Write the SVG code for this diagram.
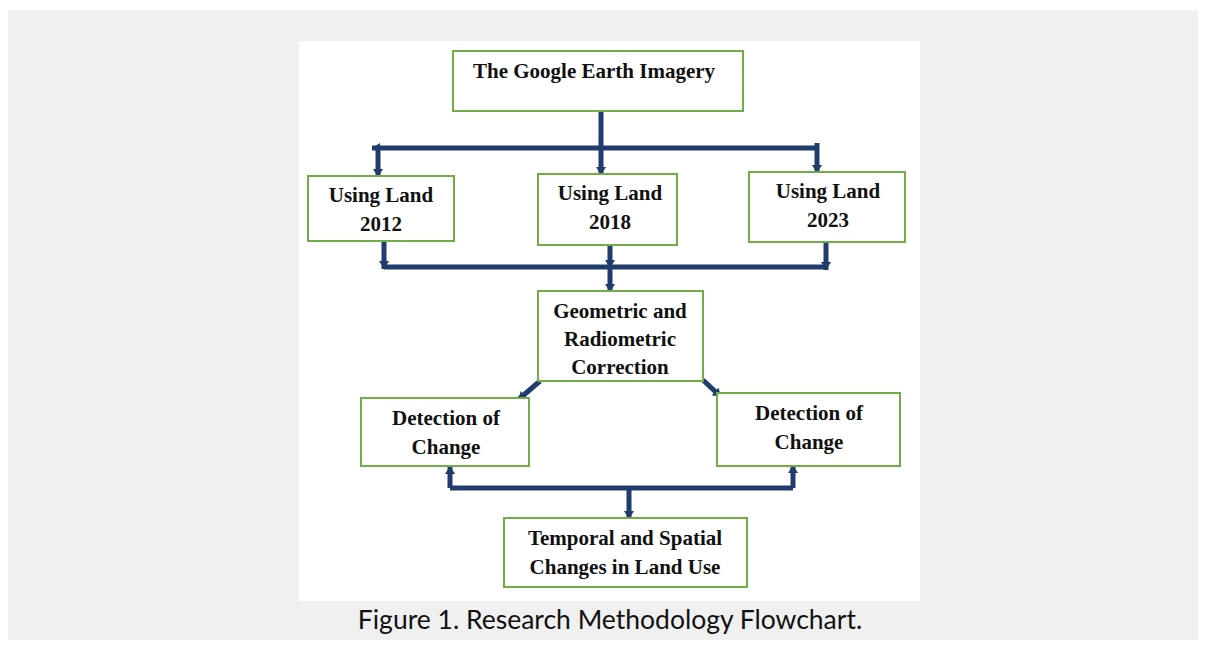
<svg xmlns="http://www.w3.org/2000/svg" width="1206" height="646" viewBox="0 0 1206 646">
<style>
.box{fill:#ffffff;stroke:#70ad47;stroke-width:2}
.t{font-family:"Liberation Serif","Times New Roman",serif;font-weight:bold;font-size:21px;fill:#111;text-anchor:middle}
.c{fill:none;stroke:#1f3c6c;stroke-width:5}
.cap{font-family:"Lato","Open Sans",sans-serif;font-size:26.5px;fill:#111;text-anchor:middle}
</style>
<defs>
<marker id="ah" markerUnits="userSpaceOnUse" markerWidth="12" markerHeight="12" viewBox="0 0 12 12" refX="10" refY="6" orient="auto">
<path d="M2,1 L10,6 L2,11 Z" fill="#1f3c6c"/>
</marker>
</defs>
<rect x="0" y="0" width="1206" height="646" fill="#ffffff"/>
<rect x="8" y="10" width="1190" height="630" fill="#f0f0f0"/>
<rect x="299" y="41" width="621" height="560" fill="#ffffff"/>

<g id="connectors">
<path class="c" d="M601,111 V148"/>
<path class="c" d="M819,148 H372" marker-end="url(#ah)"/>
<path class="c" d="M378,148 V177" marker-end="url(#ah)"/>
<path class="c" d="M601,148 V175" marker-end="url(#ah)"/>
<path class="c" d="M817,143 V173" marker-end="url(#ah)"/>
<path class="c" d="M384,241 V269" marker-end="url(#ah)"/>
<path class="c" d="M384,267 H826"/>
<path class="c" d="M826,242 V270" marker-end="url(#ah)"/>
<path class="c" d="M610,245 V268" marker-end="url(#ah)"/>
<path class="c" d="M610,267 V292" marker-end="url(#ah)"/>
<path class="c" d="M540,381 L518,400" marker-end="url(#ah)"/>
<path class="c" d="M703,380 L721,397" marker-end="url(#ah)"/>
<path class="c" d="M450,488 H793"/>
<path class="c" d="M629,488 V519" marker-end="url(#ah)"/>
<path class="c" d="M450,488 V466" marker-end="url(#ah)"/>
<path class="c" d="M793,488 V465" marker-end="url(#ah)"/>
</g>

<g id="node-google">
<rect class="box" x="453" y="51" width="290" height="60"/>
<text class="t" x="594" y="78">The Google Earth Imagery</text>
</g>
<g id="node-2012">
<rect class="box" x="308" y="176" width="146" height="65"/>
<text class="t" x="381" y="202">Using Land</text>
<text class="t" x="381" y="231">2012</text>
</g>
<g id="node-2018">
<rect class="box" x="538" y="174" width="139" height="71"/>
<text class="t" x="610" y="200">Using Land</text>
<text class="t" x="610" y="229">2018</text>
</g>
<g id="node-2023">
<rect class="box" x="749" y="172" width="156" height="70"/>
<text class="t" x="828" y="198">Using Land</text>
<text class="t" x="828" y="227">2023</text>
</g>
<g id="node-correction">
<rect class="box" x="538" y="291" width="165" height="90"/>
<text class="t" x="620" y="318">Geometric and</text>
<text class="t" x="620" y="346">Radiometric</text>
<text class="t" x="620" y="374">Correction</text>
</g>
<g id="node-detect-left">
<rect class="box" x="361" y="398" width="168" height="68"/>
<text class="t" x="446" y="425">Detection of</text>
<text class="t" x="446" y="454">Change</text>
</g>
<g id="node-detect-right">
<rect class="box" x="717" y="393" width="183" height="73"/>
<text class="t" x="809" y="420">Detection of</text>
<text class="t" x="809" y="449">Change</text>
</g>
<g id="node-result">
<rect class="box" x="504" y="518" width="243" height="69"/>
<text class="t" x="625" y="545">Temporal and Spatial</text>
<text class="t" x="625" y="574">Changes in Land Use</text>
</g>
<text class="cap" x="610" y="629">Figure 1. Research Methodology Flowchart.</text>
</svg>
